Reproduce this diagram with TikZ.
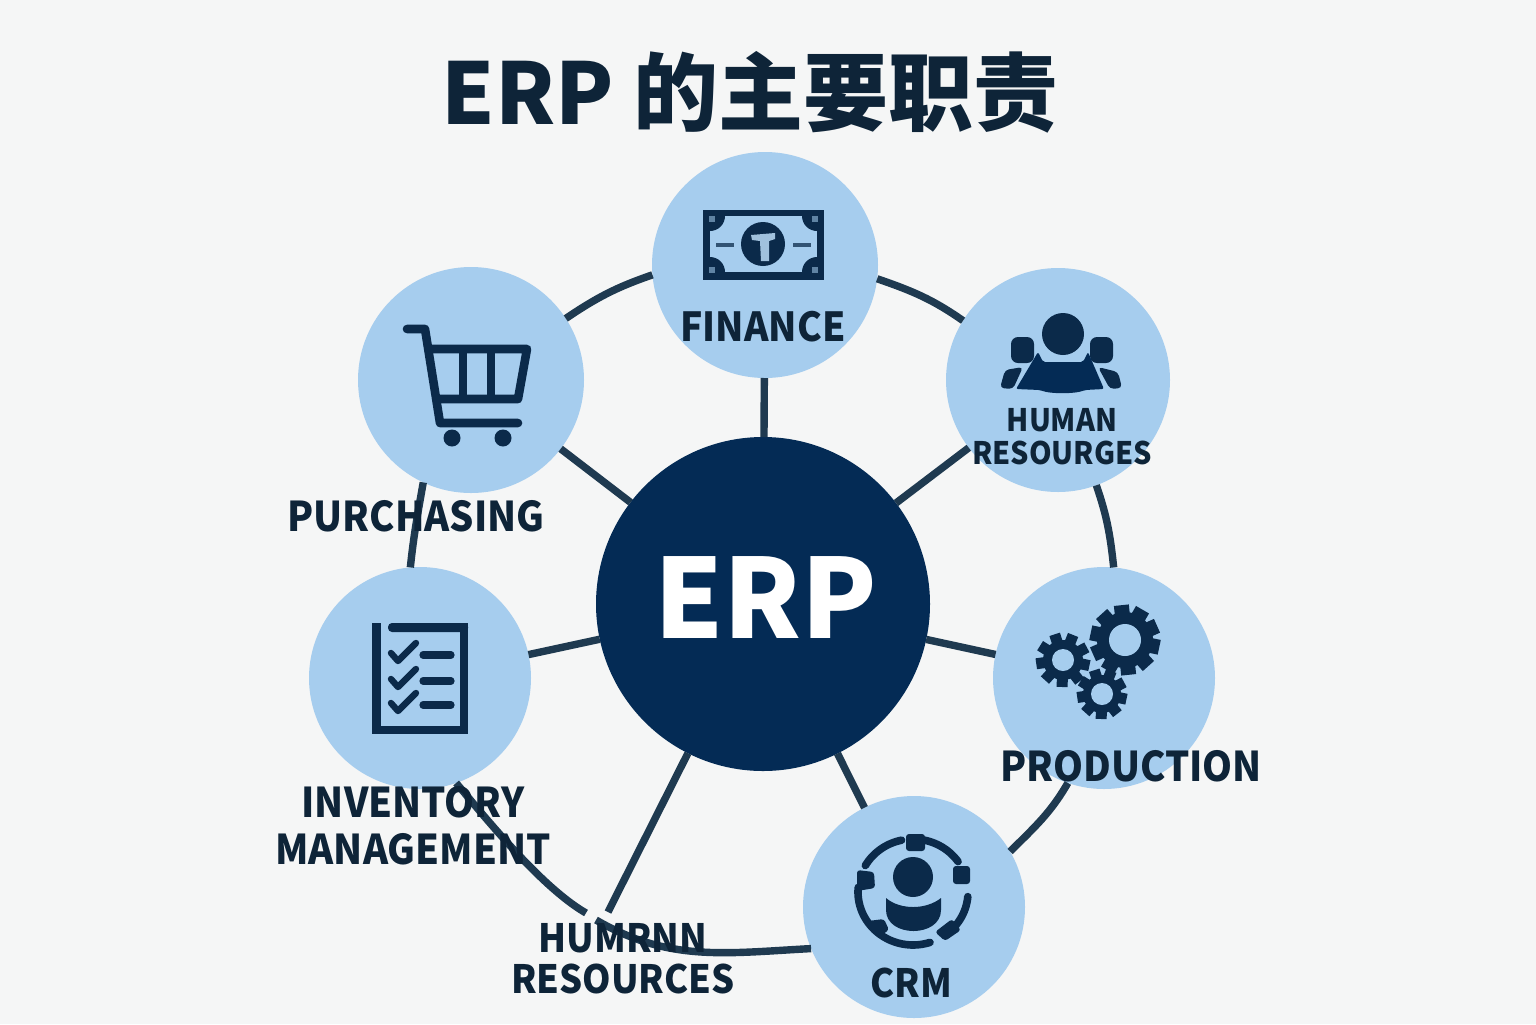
\documentclass[tikz,border=0pt]{standalone}
\usepackage{fontspec}
\setmainfont{Noto Sans}
\newfontfamily\cjk{Noto Sans CJK SC}
\newfontfamily\labfont{Noto Sans CJK SC}[FakeStretch=0.93]
\definecolor{bgc}{HTML}{F5F6F6}
\definecolor{sat}{HTML}{A6CDEE}
\definecolor{hub}{HTML}{042B55}
\definecolor{ink}{HTML}{0E2438}
\definecolor{lnk}{HTML}{1F3A50}
\definecolor{ico}{HTML}{0B2A4A}
\newcommand{\gearicon}[7]{% x y outer body hole teeth toothwidth
  \fill[ico] (#1,#2) circle[radius=#4];
  \foreach \gi in {1,...,#6}{
    \pgfmathsetmacro{\ga}{\gi*360/#6+12}
    \draw[ico,line width=#7] (#1,#2) ++(\ga:#4-2) -- ++(\ga:#3-#4+2);
  }
  \fill[sat] (#1,#2) circle[radius=#5];
}
\newcommand{\crmarc}[2]{%
  \draw[crmlink] plot[domain=#1:#2,samples=16] ({913+55*cos(\x)},{892-53*sin(\x)});
}
\tikzset{
  x=0.5pt,y=-0.5pt,
  satnode/.style={circle,fill=sat,inner sep=0pt,outer sep=0pt,minimum size=#1},
  link/.style={draw=lnk,line width=3.7pt},
  lab/.style 2 args={font=\labfont\bfseries\fontsize{#1}{#2}\selectfont,text=ink,align=center,inner sep=0pt},
  icoline/.style={draw=ico,line width=4.3pt,line join=round,line cap=round},
  crmlink/.style={draw=ico,line width=3.8pt,line cap=round},
  crmbox/.style={fill=ico,rounded corners=1.5pt}
}
\begin{document}
\begin{tikzpicture}
\useasboundingbox (0,0) rectangle (1536,1024);
\fill[bgc] (0,0) rectangle (1536,1024);

% nodes
\node[satnode=226*0.5pt] (fin) at (765,265) {};
\node[satnode=224*0.5pt] (hr) at (1058,380) {};
\node[satnode=222*0.5pt] (prod) at (1104,678) {};
\node[satnode=222*0.5pt] (crm) at (914,907) {};
\node[satnode=222*0.5pt] (inv) at (420,678) {};
\node[satnode=226*0.5pt] (pur) at (471,380) {};
\node[circle,fill=hub,inner sep=0pt,outer sep=0pt,minimum size=334*0.5pt] (erp) at (763,604) {};
\coordinate (hhA) at (586,913);
\coordinate (hhB) at (608,912);
\coordinate (hhC) at (596,920);

% spokes
\foreach \t in {fin,hr,prod,crm,inv,pur}{\draw[link] (erp) -- (\t);}
\draw[link] (erp) -- (hhB);
% ring
\draw[link] (pur.33) to[out=34,in=199] (fin.185);
\draw[link] (fin.-7) to[out=-19,in=145] (hr.148);
\draw[link] (hr.-70) to[out=-71,in=96] (prod.85);
\draw[link] (prod.-109) to[out=-120,in=45] (crm.30);
\draw[link] (inv.95) to[out=84,in=-100] (pur.-115);
\draw[link] (inv.-71) to[out=-50,in=150,looseness=0.7] (hhA);
\draw[link] (hhC) to[out=-30,in=183] (crm.202);

% finance icon
\fill[ico] (703,210) rectangle (824,280);
\fill[sat] (710,216) rectangle (817,272);
\begin{scope}
  \clip (710,216) rectangle (817,272);
  \foreach \cx/\cy in {710/216,817/216,710/272,817/272}{\fill[ico] (\cx,\cy) circle[radius=15];}
\end{scope}
\fill[ico] (763,244) circle[radius=22];
\fill[ico!75!sat] (716,243) rectangle (734,247);
\fill[ico!75!sat] (793,243) rectangle (811,247);
\fill[sat!85!gray] (751,235) -- (775,233) -- (775,239) -- (769,241) -- (769,261) -- (761,261) -- (760,241) -- (752,240) -- cycle;
\foreach \cx/\cy in {712/219,815/219,712/270,815/270}{\fill[sat!55!ico] (\cx-3,\cy-3) rectangle (\cx+3,\cy+3);}

% people icon
\fill[ico] (1063,334) circle[radius=21];
\fill[ico,rounded corners=3.5pt] (1011,337) rectangle (1034,363);
\fill[ico,rounded corners=3.5pt] (1090,337) rectangle (1113,363);
\fill[ico,rounded corners=2pt] (1000,388) -- (1005,370) -- (1023,367) -- (1013,389) -- cycle;
\fill[ico,rounded corners=2pt] (1122,388) -- (1118,372) -- (1098,367) -- (1110,389) -- cycle;
\fill[hub,rounded corners=1pt] (1016,389) -- (1038,352) -- (1043,362) -- (1083,362) -- (1088,352) -- (1104,389) -- (1085,390) .. controls (1075,394) and (1050,394) .. (1040,390) -- cycle;

% gears
\gearicon{1125}{640}{35}{28}{16}{10}{7.5pt}
\gearicon{1063}{660}{27}{20}{11}{9}{5.5pt}
\gearicon{1102}{694}{25}{19}{11}{9}{5.5pt}

% crm icon
\crmarc{35}{78}
\crmarc{-40}{-5}
\crmarc{-135}{-72}
\crmarc{175}{225}
\crmarc{102}{150}
\fill[ico] (913,877) circle[radius=20];
\fill[ico] (886,898) .. controls (900,910) and (926,910) .. (941,898) -- (941,910) .. controls (941,938) and (886,938) .. (886,910) -- cycle;
\fill[crmbox] (906,834) rectangle (925,851);
\fill[crmbox] (953,866) rectangle (970,884);
\fill[crmbox] (857,870) -- (874,872) -- (875,888) -- (857,891) -- cycle;
\fill[crmbox] (935,932) -- (952,919) -- (961,930) -- (945,941) -- cycle;
\fill[crmbox] (868,921) -- (884,919) -- (889,930) -- (877,938) -- cycle;

% checklist icon
\fill[ico] (372,623) rectangle (381,734);
\fill[ico] (372,726) rectangle (468,734);
\fill[ico] (460,623) rectangle (468,734);
\fill[ico,rounded corners=2pt] (388,623) rectangle (468,632);
\foreach \cy in {653,679,703}{
  \draw[icoline,line width=3.2pt] (391,\cy) -- (398,\cy+8) -- (416,\cy-10);
  \draw[icoline,line width=3.6pt] (423,\cy+2) -- (451,\cy+2);
}

% cart icon
\draw[icoline] (407,329) -- (425,329) -- (440,423) -- (518,423);
\draw[icoline,line cap=butt] (428,349) -- (527,349) -- (518,399) -- (438,399);
\draw[icoline,line cap=butt] (463,349) -- (463,399);
\draw[icoline,line cap=butt] (491,349) -- (491,399);
\fill[ico] (452,438) circle[radius=8.5];
\fill[ico] (503,438) circle[radius=8.5];

% labels
\node[font=\cjk\bfseries\fontsize{42.5}{42.5}\selectfont,text=ink,inner sep=0pt] (title) at (750,92) {ERP 的主要职责};
\node[font=\cjk\bfseries\fontsize{55}{55}\selectfont,text=white,inner sep=0pt] (erpt) at (766,598) {ERP};
\node[lab={20}{24}] (tfin) at (763,327) {FINANCE};
\node[lab={15.5}{16.5}] (thr) at (1062,437) {HUMAN\\RESOURGES};
\node[lab={20.5}{24}] (tpur) at (416,516) {PURCHASING};
\node[lab={20.5}{24}] (tprod) at (1131,766) {PRODUCTION};
\node[lab={20.5}{23.5}] (tinv) at (413,826) {INVENTORY\\MANAGEMENT};
\node[lab={19.5}{20.5}] (thum) at (623,959) {HUMRNN\\RESOURCES};
\node[lab={19.5}{24}] (tcrm) at (911,983) {CRM};
\end{tikzpicture}
\end{document}
